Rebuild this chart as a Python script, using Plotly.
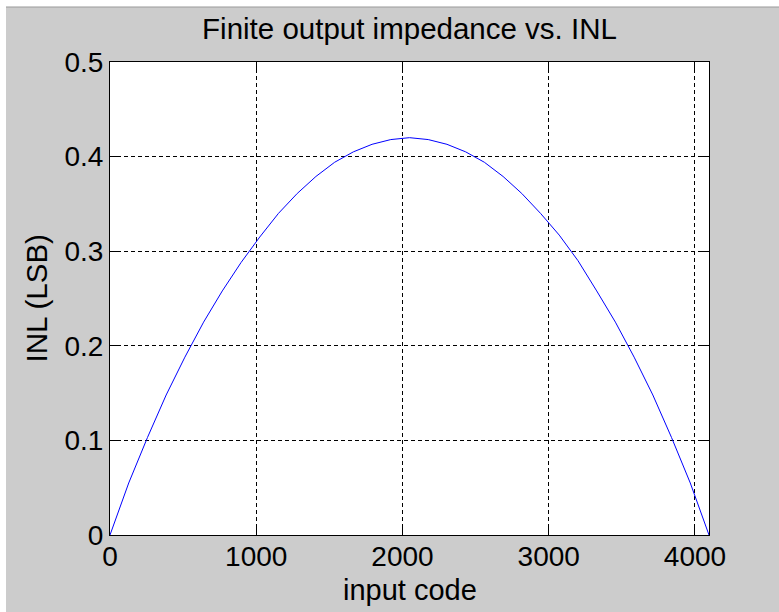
import plotly.graph_objects as go

# Data
input_code = [0, 128, 256, 384, 512, 640, 768, 896, 1024, 1152, 1280, 1408, 1536,
              1664, 1792, 1920, 2048, 2176, 2304, 2432, 2560, 2688, 2816, 2944,
              3072, 3200, 3328, 3456, 3584, 3712, 3840, 3968, 4096]
inl_lsb = [0.000, 0.055, 0.103, 0.148, 0.188, 0.225, 0.258, 0.288, 0.315, 0.340,
           0.361, 0.379, 0.394, 0.405, 0.413, 0.418, 0.420, 0.418, 0.413, 0.405,
           0.394, 0.379, 0.361, 0.340, 0.317, 0.290, 0.258, 0.225, 0.188, 0.148,
           0.103, 0.055, 0.000]

x_ticks = [0, 1000, 2000, 3000, 4000]
y_ticks = [0, 0.1, 0.2, 0.3, 0.4, 0.5]
y_tick_text = ["0", "0.1", "0.2", "0.3", "0.4", "0.5"]

title_text = "Finite output impedance vs. INL"
x_label = "input code"
y_label = "INL (LSB)"

FONT = "Liberation Sans, Arial, Helvetica, sans-serif"
W, H = 779, 612
L, R, T, B = 110, 70, 62, 77
PW, PH = W - L - R, H - T - B

fig = go.Figure()
fig.add_trace(go.Scatter(x=input_code, y=inl_lsb, mode="lines",
                         line=dict(color="#0000ff", width=1), showlegend=False,
                         hoverinfo="x+y"))

axis_common = dict(
    showline=True, linecolor="#000000", linewidth=1, mirror="ticks",
    ticks="inside", ticklen=7, tickwidth=1, tickcolor="#000000",
    showgrid=True, gridcolor="#000000", gridwidth=1, griddash="4px,3px",
    zeroline=False, tickfont=dict(family=FONT, size=28, color="#000000"),
)

fig.update_xaxes(range=[0, 4096], tickvals=x_ticks,
                 ticktext=[str(v) for v in x_ticks], ticklabelstandoff=-4,
                 **axis_common)
fig.update_yaxes(range=[0, 0.5], tickvals=y_ticks, ticktext=y_tick_text,
                 **axis_common)

fig.update_layout(
    width=W, height=H,
    margin=dict(l=L, r=R, t=T, b=B, pad=0),
    paper_bgcolor="#cccccc", plot_bgcolor="#ffffff",
    font=dict(family=FONT, color="#000000"),
    title=dict(text=title_text, x=(L + PW / 2) / W, xanchor="center",
               y=1 - 29 / H, yanchor="middle", yref="container",
               font=dict(family=FONT, size=29.5, color="#000000")),
    annotations=[
        dict(text=x_label, xref="paper", yref="paper", x=0.5,
             y=(-(590 - (T + PH))) / PH, xanchor="center", yanchor="middle",
             showarrow=False, font=dict(family=FONT, size=29, color="#000000")),
        dict(text=y_label, xref="paper", yref="paper", x=(36 - L) / PW,
             y=0.5, xanchor="center", yanchor="middle", textangle=-90,
             showarrow=False, font=dict(family=FONT, size=29.5, color="#000000")),
    ],
    shapes=[
        dict(type="rect", xref="paper", yref="paper", layer="above",
             x0=-L / PW, x1=(-L + 6) / PW, y0=-B / PH, y1=(PH + T) / PH,
             fillcolor="#ffffff", line=dict(width=0)),
        dict(type="rect", xref="paper", yref="paper", layer="above",
             x0=-L / PW, x1=(PW + R) / PW, y0=(PH + T - 7) / PH, y1=(PH + T) / PH,
             fillcolor="#ffffff", line=dict(width=0)),
        dict(type="line", xref="paper", yref="paper", layer="above",
             x0=(-L + 6) / PW, x1=(PW + R) / PW, y0=(PH + T - 7) / PH,
             y1=(PH + T - 7) / PH, line=dict(color="#999999", width=1)),
    ],
)

fig.write_html("out.html")
